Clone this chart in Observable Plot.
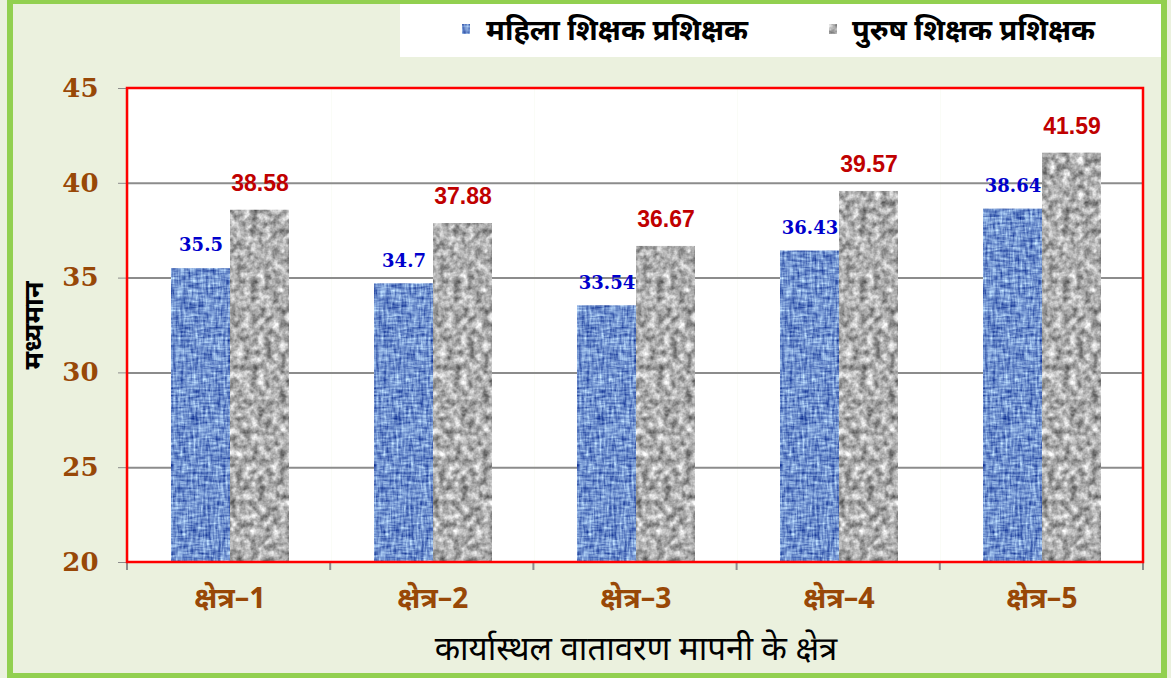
<!DOCTYPE html>
<html>
<head>
<meta charset="utf-8">
<script src="https://cdn.jsdelivr.net/npm/d3@7"></script>
<script src="https://cdn.jsdelivr.net/npm/@observablehq/plot@0.6"></script>
<style>
  html, body { margin: 0; padding: 0; }
  body { width: 1171px; height: 678px; overflow: hidden; background: #ebf1de; position: relative;
         font-family: "Noto Sans Devanagari", "Noto Sans", "DejaVu Sans", sans-serif; }
  #border { position: absolute; left: 7px; top: -2px; width: 1160px; height: 681px; box-sizing: border-box;
            border: 6px solid #92d050; pointer-events: none; z-index: 3; }
  #legend { position: absolute; left: 400px; top: 4px; width: 761px; height: 53px; background: #fff; z-index: 2; }
  .li { position: absolute; top: 3px; height: 53px; display: flex; align-items: center; }
  .li span { font-size: 29px; font-weight: bold; color: #000; white-space: nowrap; line-height: 1; }
  .sw { position: absolute; width: 8px; height: 10px; top: 20px; }
  #chart { position: absolute; left: 0; top: 0; z-index: 1; }
</style>
</head>
<body>
<svg width="0" height="0" style="position:absolute">
  <defs>
    <filter id="fGray" x="0" y="0" width="1" height="1" color-interpolation-filters="sRGB">
      <feTurbulence type="fractalNoise" baseFrequency="0.14" numOctaves="3" seed="4"/>
      <feColorMatrix type="matrix" values="0.9 0 0 0 0.23  0.9 0 0 0 0.23  0.9 0 0 0 0.23  0 0 0 0 1"/>
    </filter>
    <filter id="fBlue" x="0" y="0" width="1" height="1" color-interpolation-filters="sRGB">
      <feTurbulence type="fractalNoise" baseFrequency="0.4 0.08" numOctaves="2" seed="3" result="a"/>
      <feTurbulence type="fractalNoise" baseFrequency="0.08 0.4" numOctaves="2" seed="9" result="b"/>
      <feComposite in="a" in2="b" operator="arithmetic" k1="0" k2="0.5" k3="0.5" k4="0"/>
      <feColorMatrix type="matrix" values="1.3 0 0 0 -0.21  1.3 0 0 0 -0.08  0.8 0 0 0 0.41  0 0 0 0 1"/>
    </filter>
    <pattern id="pGray" patternUnits="userSpaceOnUse" width="400" height="600">
      <rect width="400" height="600" fill="#a8a8a8" filter="url(#fGray)"/>
    </pattern>
    <pattern id="pBlue" patternUnits="userSpaceOnUse" width="400" height="600">
      <rect width="400" height="600" fill="#6b8ccb" filter="url(#fBlue)"/>
    </pattern>
  </defs>
</svg>
<div id="border"></div>
<div id="legend"></div>
<div id="chart"></div>
<script>
// ---- data ----
const categories = ["क्षेत्र–1", "क्षेत्र–2", "क्षेत्र–3", "क्षेत्र–4", "क्षेत्र–5"];
const seriesNames = ["महिला शिक्षक प्रशिक्षक", "पुरुष शिक्षक प्रशिक्षक"];
const femaleMeans = [35.5, 34.7, 33.54, 36.43, 38.64];
const maleMeans = [38.58, 37.88, 36.67, 39.57, 41.59];
const yTicks = [20, 25, 30, 35, 40, 45];
const gridTicks = [25, 30, 35, 40];
const xTitle = "कार्यास्थल वातावरण मापनी के क्षेत्र";
const yTitle = "मध्यमान";

// ---- styling ----
const seriesFills = ["url(#pBlue)", "url(#pGray)"];
const W = 1171, H = 678, ML = 127, MR = 28, MT = 88, MB = 116;
const brown = "#984807";

const rows = [];
categories.forEach((c, i) => {
  rows.push({category: c, series: seriesNames[0], value: femaleMeans[i]});
  rows.push({category: c, series: seriesNames[1], value: maleMeans[i]});
});

const chart = Plot.plot({
  width: W, height: H,
  marginLeft: ML, marginRight: MR, marginTop: MT, marginBottom: MB,
  style: {background: "transparent", fontFamily: "'Noto Sans Devanagari', 'Noto Sans', sans-serif", color: "#8c8c8c"},
  facet: {data: rows, x: "category"},
  fx: {domain: categories, padding: 0, label: xTitle, labelAnchor: "center", tickSize: 0, tickPadding: 25, labelOffset: 97},
  x: {domain: seriesNames, axis: null, paddingInner: 0, paddingOuter: 0.70},
  y: {domain: [20, 45], ticks: yTicks, tickFormat: d => String(d), tickSize: 10, tickPadding: 20,
      label: yTitle, labelAnchor: "center", labelOffset: 105},
  color: {domain: seriesNames, range: seriesFills},
  marks: [
    Plot.frame({fill: "white", stroke: null}),
    Plot.ruleY(gridTicks, {stroke: "#8c8c8c", strokeWidth: 2}),
    Plot.barY(rows, {x: "series", y1: 20, y2: "value", fill: "series"}),
    Plot.text(rows, {
      filter: d => d.series === seriesNames[0],
      x: "series", y: "value", text: d => String(d.value), dy: -23,
      fill: "#0000cc", fontFamily: "'DejaVu Serif', serif", fontWeight: "bold", fontSize: 18
    }),
    Plot.text(rows, {
      filter: d => d.series === seriesNames[1],
      x: "series", y: "value", text: d => String(d.value), dy: -27,
      fill: "#c00000", fontFamily: "'Liberation Sans', Arial, sans-serif", fontWeight: "bold", fontSize: 23
    })
  ]
});
document.getElementById("chart").appendChild(chart);

// style axis texts
const svg = d3.select(chart);
svg.selectAll("text").each(function() {
  const t = this.textContent;
  const s = d3.select(this);
  if (yTicks.map(String).includes(t)) {
    s.attr("fill", brown).style("font-family", "'DejaVu Serif', serif").style("font-weight", "bold").style("font-size", "26px");
  } else if (categories.includes(t)) {
    s.attr("fill", brown).style("font-weight", "bold").style("font-size", "29px");
  } else if (t.startsWith(yTitle)) {
    this.textContent = yTitle;
    s.attr("fill", "#000").style("font-weight", "bold").style("font-size", "27px");
  } else if (t.startsWith(xTitle)) {
    this.textContent = xTitle;
    s.attr("fill", "#000").style("font-size", "33px");
  }
});

// red plot frame and category boundary ticks
const fxScale = d3.scaleBand().domain(categories).range([ML, W - MR]).padding(0);
const edges = categories.map(c => fxScale(c)).concat([W - MR]);
const over = svg.append("g");
over.selectAll("line").data(edges).join("line")
  .attr("x1", d => d).attr("x2", d => d).attr("y1", H - MB).attr("y2", H - MB + 8)
  .attr("stroke", "#8c8c8c").attr("stroke-width", 2);
over.append("rect").attr("x", ML).attr("y", MT).attr("width", W - ML - MR).attr("height", H - MT - MB)
  .attr("fill", "none").attr("stroke", "#ff0000").attr("stroke-width", 2.5);

// legend
const legend = d3.select("#legend");
const legendPos = [{sw: 62, tx: 86}, {sw: 429, tx: 452}];
seriesNames.forEach((name, i) => {
  legend.append("svg").attr("class", "sw").style("left", legendPos[i].sw + "px")
    .attr("width", 8).attr("height", 10)
    .append("rect").attr("width", 8).attr("height", 10).attr("fill", seriesFills[i]);
  legend.append("div").attr("class", "li").style("left", legendPos[i].tx + "px")
    .append("span").text(name);
});
</script>
</body>
</html>
